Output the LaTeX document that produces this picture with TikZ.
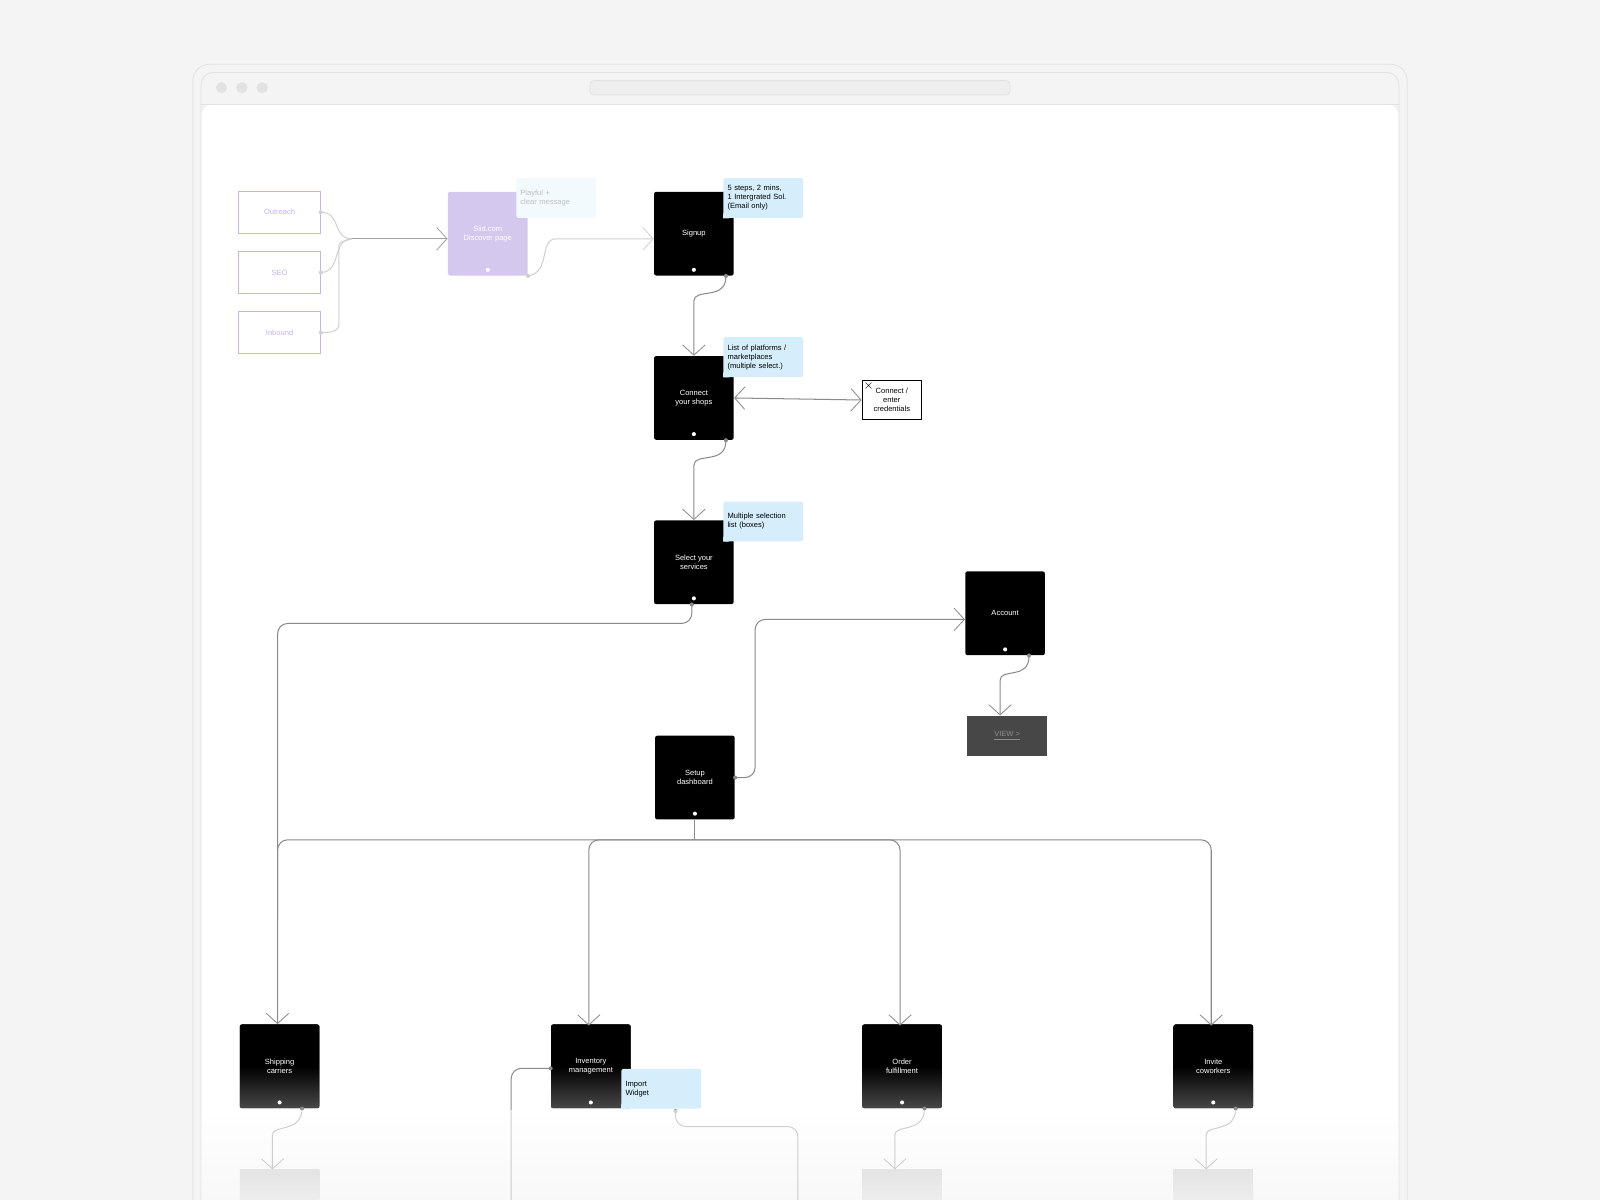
\documentclass[tikz,border=0pt]{standalone}
\usepackage{fontspec}
\setmainfont{Liberation Sans}
\usetikzlibrary{arrows.meta,positioning}
\definecolor{pagebg}{HTML}{F4F4F4}
\definecolor{frame}{HTML}{E2E2E2}
\definecolor{lav}{HTML}{D5C8EE}
\definecolor{lavtxt}{HTML}{C4B3EC}
\definecolor{tipblue}{HTML}{D6EEFB}
\definecolor{wire}{HTML}{8A8A8A}
\definecolor{fadewire}{HTML}{D0D0D0}
\tikzset{
  tiny/.style={font=\fontsize{3.7}{4.4}\selectfont, align=center},
  stepbox/.style={tiny, fill=black, text=white, rounded corners=1pt,
    minimum width=39pt, minimum height=41pt, inner sep=0pt},
  lowbox/.style={stepbox, top color=black, bottom color=black!72, middle color=black},
  sourcebox/.style={tiny, draw=lavtxt, text=lavtxt, fill=white,
    minimum width=40pt, minimum height=20.5pt, inner sep=0pt},
  tipbox/.style={tiny, fill=tipblue, align=left, rounded corners=1pt,
    minimum width=39pt, minimum height=19.5pt, inner sep=2pt, text width=35pt},
  link/.style={draw=wire, line width=0.5pt, rounded corners=5pt},
  faint/.style={draw=fadewire, line width=0.5pt, rounded corners=5pt},
  tip/.style={-{Straight Barb[length=5pt,width=11pt,line width=0.4pt]}},
  both/.style={{Straight Barb[length=5pt,width=11pt,line width=0.4pt]}-{Straight Barb[length=5pt,width=11pt,line width=0.4pt]}},
}
\newcommand{\tail}[1]{\fill[tipblue] (#1.south west) -- ++(0,-5) -- ++(6,5) -- cycle;}
\begin{document}
\begin{tikzpicture}[x=0.5pt, y=-0.5pt]
\useasboundingbox (0,0) rectangle (1568,1176);
\fill[pagebg] (0,0) rectangle (1568,1176);
% browser frame
\draw[frame, fill=pagebg, rounded corners=8pt] (189,63) rectangle (1379,1200);
\draw[frame, fill=pagebg, rounded corners=6pt] (197,71) rectangle (1371,1200);
\fill[white, rounded corners=6pt] (197.5,102) rectangle (1370.5,1200);
\draw[frame] (197,102) -- (1371,102);
\foreach \dx in {217,237,257} \fill[frame] (\dx,86) circle (5.5);
\draw[frame, fill=frame!60, rounded corners=2pt] (578,79) rectangle (990,93);

% sources
\node[sourcebox] (outreach) at (274,208) {Outreach};
\node[sourcebox] (seo) at (274,267) {SEO};
\node[sourcebox] (inbound) at (274,326) {Inbound};
\node[stepbox, fill=lav] (discover) at (478,229) {Siid.com\\Discover page};
\node[tipbox, fill=tipblue!30, text=black!25] (playful) at (545,194) {Playful +\\clear message};

% main flow
\node[stepbox] (signup) at (680,229) {Signup};
\node[stepbox] (shops) at (680,390) {Connect\\your shops};
\node[stepbox] (services) at (680,551) {Select your\\services};
\node[stepbox] (dashboard) at (681,762) {Setup\\dashboard};
\node[stepbox] (account) at (985,601) {Account};
\node[tiny, fill=black!72, text=black!45, minimum width=39pt, minimum height=19.5pt] (view) at (987,721) {\underline{VIEW >}};
\node[tiny, draw, line width=0.6pt, fill=white, minimum width=29pt, minimum height=19pt, inner sep=0pt] (creds) at (874,392) {Connect /\\enter\\credentials};
\node[tiny, anchor=north west, inner sep=0.5pt] at (creds.north west) {$\times$};

% tips
\node[tipbox] (tipsignup) at (748,194) {5 steps, 2 mins,\\1 Intergrated Sol.\\(Email only)};
\node[tipbox] (tipshops) at (748,350) {List of platforms /\\marketplaces\\(multiple select.)};
\node[tipbox] (tipservices) at (748,511) {Multiple selection\\list (boxes)};
\tail{tipsignup} \tail{tipshops} \tail{tipservices}

% services
\node[lowbox] (shipping) at (274,1045) {Shipping\\carriers};
\node[lowbox] (inventory) at (579,1045) {Inventory\\management};
\node[lowbox] (order) at (884,1045) {Order\\fulfillment};
\node[lowbox] (invite) at (1189,1045) {Invite\\coworkers};
\foreach \n in {signup,shops,services,dashboard,account,shipping,inventory,order,invite,discover}
  \fill[white] ([yshift=3pt]\n.south) circle (2);

% stubs below
\foreach \n/\cx in {shipping/274,order/884,invite/1189}
  \shade[top color=black!22, bottom color=black!10] (\cx-39,1146) rectangle (\cx+39,1176);

% connectors
\coordinate (merge) at (345,234);
\draw[faint] (outreach.east) .. controls (335,208) and (325,234) .. (merge);
\draw[faint] (seo.east) .. controls (335,267) and (325,234) .. (merge);
\draw[faint] (inbound.east) .. controls (335,326) and (332,320) .. (332,300) -- (332,250) .. controls (332,238) .. (merge);
\draw[link, tip, draw=wire!80] (merge) -- (discover.west |- merge);
\draw[faint, tip] (discover.south east) .. controls (540,267) and (528,234) .. (555,234) -- (signup.west |- 0,234);
\draw[link, tip] ([xshift=-4pt]signup.south east) .. controls (712,295) and (680,282) .. (680,305) -- (shops.north);
\draw[link, both] (shops.east) -- (creds.west);
\draw[link, tip] ([xshift=-4pt]shops.south east) .. controls (712,456) and (680,443) .. (680,466) -- (services.north);
\draw[link, tip] ([xshift=-1pt]services.south) |- (272,611) -- (shipping.north -| 272,0);
\draw[link, tip] (dashboard.east) -| (740,607) -- (account.west |- 0,607);
\draw[link, tip] ([xshift=-8pt]account.south east) .. controls (1009,667) and (980,654) .. (980,677) -- (view.north -| 980,0);
\coordinate (fan) at (681,823);
\draw[link] (dashboard.south) -- (fan);
\draw[link] (fan) -| (272,900);
\foreach \n/\cx in {inventory/577,order/882,invite/1187}
  \draw[link, tip] (fan) -| (\cx,1005);
\draw[link] (inventory.west |- 0,1047) -| (501,1176);
\node[tipbox] (tipimport) at (648,1067) {Import\\Widget};
\tail{tipimport}
\draw[link] ([xshift=7pt,yshift=-1pt]tipimport.south) |- (782,1104) -- (782,1176);
\foreach \n/\cx in {shipping/274,order/884,invite/1189}
  \draw[link, tip] ([xshift=11pt]\n.south) .. controls ([xshift=11pt,yshift=-12pt]\n.south) and (\cx-7,1102) .. (\cx-7,1122) -- (\cx-7,1146);
\foreach \p in {(outreach.east),(seo.east),(inbound.east),(discover.south east)}
  \fill[fadewire] \p circle (2);
\foreach \p in {([xshift=-4pt]signup.south east),([xshift=-4pt]shops.south east),([xshift=-1pt]services.south),(dashboard.east),([xshift=-8pt]account.south east),(inventory.west |- 0,1047),([xshift=7pt,yshift=-1pt]tipimport.south),([xshift=11pt]shipping.south),([xshift=11pt]order.south),([xshift=11pt]invite.south)}
  \fill[wire] \p circle (2);

% fade at the bottom
\shade[top color=white, bottom color=pagebg, opacity=0.6] (198,1088) rectangle (1370,1176);
\end{tikzpicture}
\end{document}
